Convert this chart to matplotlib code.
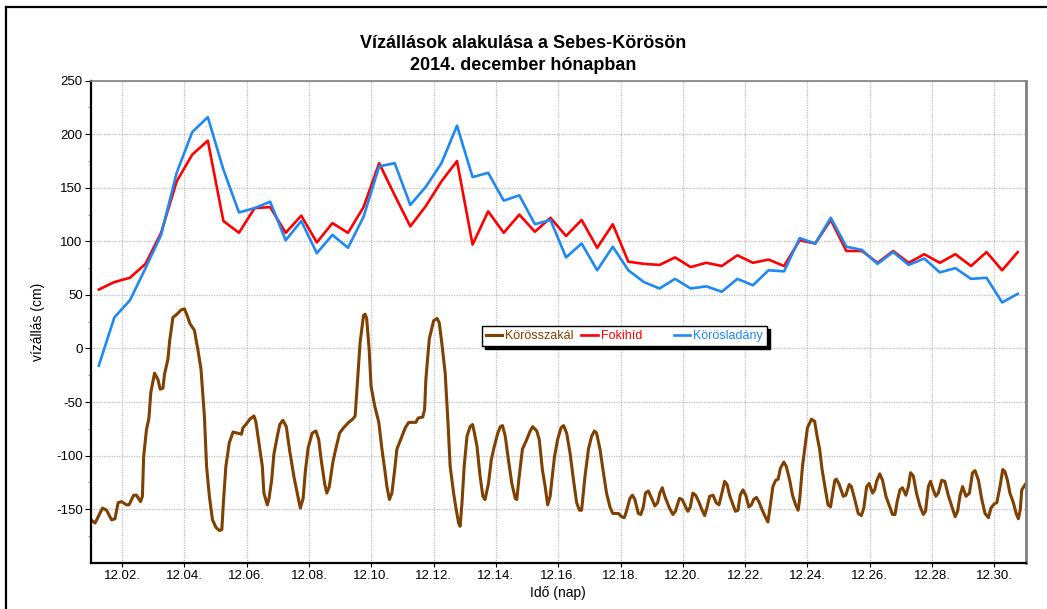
import numpy as np
import matplotlib
matplotlib.use("Agg")
import matplotlib.pyplot as plt
from matplotlib.lines import Line2D

plt.rcParams['font.family'] = ['Liberation Sans', 'DejaVu Sans']
plt.rcParams['axes.unicode_minus'] = False

# Fokihíd / Körösladány: 12 hourly readings (06:00 and 18:00), day of December
twice_daily = np.arange(1.25, 30.76, 0.5)
fokihid = [55, 62, 66, 79, 108, 156, 181, 194, 119, 108,
           131, 132, 108, 124, 99, 117, 108, 132, 173, 143,
           114, 133, 156, 175, 97, 128, 108, 125, 109, 122,
           105, 120, 94, 116, 81, 79, 78, 85, 76, 80,
           77, 87, 80, 83, 77, 101, 98, 120, 91, 91,
           80, 91, 80, 88, 80, 88, 77, 90, 73, 90]
koroslada = [-16, 29, 45, 75, 106, 164, 202, 216, 167, 127,
             131, 137, 101, 119, 89, 106, 94, 123, 170, 173,
             134, 151, 173, 208, 160, 164, 138, 143, 116, 120,
             85, 98, 73, 95, 73, 62, 56, 65, 56, 58,
             53, 65, 59, 73, 72, 103, 98, 122, 95, 92,
             79, 90, 78, 84, 71, 75, 65, 66, 43, 51]

# Körösszakál: readings taken off the curve (day of December, cm)
szakal_day = [1.00, 1.13, 1.37, 1.50, 1.66, 1.77, 1.87, 1.98, 2.14, 2.22, 2.37, 2.46, 2.59, 2.65, 2.69,
              2.78, 2.86, 2.92, 3.04, 3.15, 3.22, 3.31, 3.36, 3.47, 3.52, 3.63, 3.76, 3.89, 4.00, 4.07,
              4.18, 4.32, 4.43, 4.53, 4.64, 4.71, 4.80, 4.90, 5.01, 5.12, 5.20, 5.25, 5.33, 5.44, 5.56,
              5.70, 5.83, 5.88, 5.97, 6.10, 6.23, 6.29, 6.39, 6.50, 6.55, 6.66, 6.71, 6.80, 6.87, 6.98,
              7.06, 7.16, 7.27, 7.37, 7.51, 7.62, 7.72, 7.81, 7.88, 7.97, 8.10, 8.22, 8.31, 8.39, 8.50,
              8.57, 8.65, 8.76, 8.84, 8.98, 9.11, 9.27, 9.40, 9.48, 9.56, 9.64, 9.75, 9.80, 9.85, 9.93,
              9.99, 10.11, 10.24, 10.34, 10.43, 10.50, 10.58, 10.66, 10.75, 10.82, 10.90, 10.98, 11.09,
              11.20, 11.33, 11.43, 11.50, 11.65, 11.71, 11.75, 11.86, 12.00, 12.11, 12.18, 12.27, 12.37,
              12.46, 12.53, 12.64, 12.71, 12.80, 12.85, 12.91, 12.98, 13.07, 13.17, 13.25, 13.31, 13.39,
              13.49, 13.58, 13.65, 13.76, 13.85, 13.95, 14.06, 14.14, 14.21, 14.30, 14.40, 14.51, 14.62,
              14.67, 14.74, 14.85, 14.96, 15.10, 15.18, 15.31, 15.39, 15.49, 15.58, 15.66, 15.74, 15.81,
              15.88, 15.98, 16.09, 16.17, 16.27, 16.38, 16.49, 16.59, 16.68, 16.75, 16.86, 16.97, 17.07,
              17.16, 17.23, 17.34, 17.45, 17.55, 17.66, 17.75, 17.82, 17.93, 18.03, 18.12, 18.19, 18.30,
              18.38, 18.46, 18.57, 18.65, 18.73, 18.80, 18.89, 19.00, 19.10, 19.19, 19.26, 19.34, 19.42,
              19.57, 19.68, 19.76, 19.89, 19.98, 20.09, 20.16, 20.24, 20.32, 20.41, 20.51, 20.62, 20.70,
              20.77, 20.86, 20.97, 21.07, 21.16, 21.27, 21.34, 21.42, 21.50, 21.61, 21.69, 21.77, 21.84,
              21.93, 22.02, 22.12, 22.20, 22.27, 22.36, 22.44, 22.55, 22.66, 22.73, 22.81, 22.89, 22.98,
              23.06, 23.13, 23.24, 23.32, 23.43, 23.52, 23.62, 23.70, 23.75, 23.84, 23.91, 24.00, 24.13,
              24.23, 24.31, 24.39, 24.47, 24.56, 24.66, 24.74, 24.80, 24.88, 24.93, 25.02, 25.15, 25.23,
              25.34, 25.41, 25.52, 25.63, 25.73, 25.81, 25.90, 25.98, 26.09, 26.16, 26.22, 26.32, 26.41,
              26.52, 26.62, 26.73, 26.81, 26.88, 26.97, 27.05, 27.16, 27.24, 27.31, 27.40, 27.50, 27.61,
              27.72, 27.79, 27.88, 27.95, 28.04, 28.12, 28.20, 28.31, 28.41, 28.52, 28.63, 28.74, 28.82,
              28.90, 28.98, 29.09, 29.20, 29.30, 29.38, 29.49, 29.59, 29.70, 29.81, 29.89, 30.00, 30.08,
              30.18, 30.27, 30.34, 30.42, 30.50, 30.61, 30.70, 30.77, 30.83, 30.88, 30.99]
szakal_level = [-160, -163, -149, -151, -160, -159, -144, -143, -146, -146, -137, -137, -143, -138, -101,
                -76, -65, -41, -23, -29, -38, -37, -24, -10, 6, 29, 32, 36, 37, 32,
                23, 17, -1, -19, -63, -110, -138, -160, -167, -170, -169, -144, -110, -88, -78,
                -79, -80, -74, -71, -66, -63, -68, -88, -110, -135, -146, -141, -123, -99, -82,
                -71, -67, -73, -94, -119, -135, -149, -140, -115, -93, -79, -77, -85, -104, -126,
                -135, -129, -107, -96, -79, -74, -69, -66, -63, -29, 6, 31, 32, 28, -1,
                -35, -54, -69, -94, -113, -129, -141, -135, -113, -94, -88, -82, -74,
                -69, -69, -69, -65, -64, -57, -29, 9, 26, 28, 24, 3, -23,
                -69, -110, -135, -148, -163, -166, -144, -110, -82, -73, -71, -79, -91,
                -119, -138, -141, -126, -104, -91, -79, -73, -72, -82, -104, -126, -140,
                -141, -121, -94, -87, -77, -73, -77, -85, -113, -129, -146, -138, -119,
                -101, -85, -74, -72, -79, -98, -123, -144, -151, -151, -119, -94, -82,
                -77, -79, -94, -116, -135, -148, -154, -154, -154, -157, -158, -152, -140,
                -137, -141, -154, -155, -148, -135, -133, -140, -147, -144, -135, -130, -138,
                -149, -155, -152, -140, -141, -148, -152, -148, -135, -137, -143, -151, -156,
                -149, -138, -137, -144, -146, -133, -124, -127, -137, -146, -152, -151, -137,
                -132, -137, -148, -146, -141, -139, -143, -151, -158, -162, -146, -129, -123,
                -122, -112, -106, -110, -123, -137, -146, -151, -141, -110, -94, -74, -66,
                -68, -82, -94, -113, -129, -146, -148, -137, -123, -122, -127, -138, -137,
                -127, -129, -141, -154, -156, -149, -129, -126, -135, -132, -124, -117, -123,
                -138, -146, -155, -155, -143, -132, -130, -137, -129, -116, -119, -135, -147,
                -155, -152, -129, -124, -132, -138, -135, -123, -124, -137, -147, -157, -152,
                -137, -129, -138, -135, -116, -114, -123, -140, -154, -158, -149, -145, -144,
                -129, -113, -115, -123, -135, -144, -154, -159, -151, -132, -127]

tick_days = list(range(2, 31, 2))
tick_labels = ["12.%02d." % d for d in tick_days]

W, H = 1047, 609
fig = plt.figure(figsize=(W / 100, H / 100), dpi=100)
ax = fig.add_axes([91 / W, 1 - 562.7 / H, (1025.5 - 91) / W, (562.7 - 80.7) / H])

ax.plot(szakal_day, szakal_level, color='#7f4000', lw=2.2, label='Körösszakál', solid_joinstyle='round')
ax.plot(twice_daily, fokihid, color='#ff0000', lw=1.9, label='Fokihíd' + ' ' * 7)
ax.plot(twice_daily, koroslada, color='#1e88f5', lw=1.9, label='Körösladány')

ax.set_xlim(1, 31)
ax.set_ylim(-200, 250)
ax.set_xticks(tick_days)
ax.set_xticklabels(tick_labels)
ax.set_yticks(np.arange(-150, 251, 50))
ax.set_yticks(np.arange(-175, 251, 25), minor=True)
ax.tick_params(axis='both', which='major', labelsize=9.5, direction='out', length=3, width=0.8, pad=2)
ax.tick_params(axis='y', which='minor', direction='out', length=2, width=0.6, color='#808080')
ax.tick_params(axis='y', which='major', length=4)

ax.grid(True, which='major', color='#bcbcbc', linestyle=(0, (1, 1)), linewidth=0.9)
ax.set_axisbelow(True)

ax.spines['left'].set_linewidth(1.6)
ax.spines['bottom'].set_linewidth(1.6)
ax.spines['right'].set_color('#808080')
ax.spines['right'].set_linewidth(2.0)
ax.spines['top'].set_color('#808080')
ax.spines['top'].set_linewidth(1.2)

ax.set_ylabel('vízállás (cm)', fontsize=10, labelpad=8)
ax.set_xlabel('Idő (nap)', fontsize=10, labelpad=3)

fig.text(0.5, 1 - 43 / H, 'Vízállások alakulása a Sebes-Körösön', ha='center', va='center',
         fontsize=13, fontweight='bold')
fig.text(0.5, 1 - 66 / H, '2014. december hónapban', ha='center', va='center',
         fontsize=13, fontweight='bold')

leg = ax.legend(loc='center', bbox_to_anchor=(0.571, 0.470), ncol=3, fontsize=9,
                labelcolor='linecolor', fancybox=False, framealpha=1, edgecolor='black',
                shadow={'color': 'black', 'alpha': 1}, handlelength=1.3, handletextpad=0.25,
                columnspacing=0.6, borderpad=0.3)
leg.get_frame().set_linewidth(1.0)

# frame lines along the top and left edge of the picture
fig.add_artist(Line2D([6 / W, 1], [1 - 6.5 / H, 1 - 6.5 / H], color='black', lw=1.6,
                      transform=fig.transFigure))
fig.add_artist(Line2D([6 / W, 6 / W], [1 - 6.5 / H, 0], color='black', lw=1.6,
                      transform=fig.transFigure))

fig.savefig('out.png', dpi=100)
